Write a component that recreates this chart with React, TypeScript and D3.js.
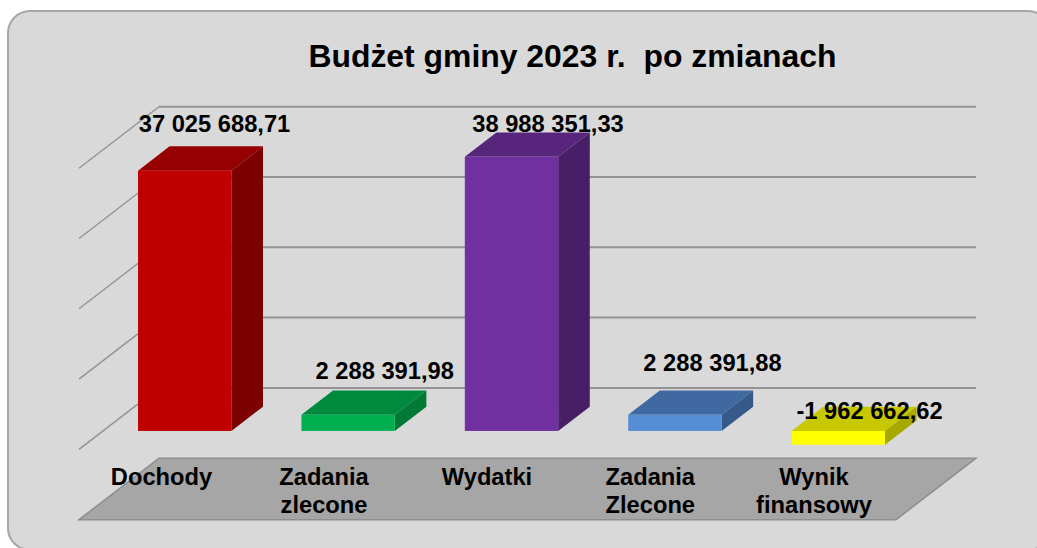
import React from 'react';
import * as d3 from 'd3';

const categories = ['Dochody', 'Zadania zlecone', 'Wydatki', 'Zadania Zlecone', 'Wynik finansowy'];
const categoryLines = [['Dochody'], ['Zadania', 'zlecone'], ['Wydatki'], ['Zadania', 'Zlecone'], ['Wynik', 'finansowy']];
const values = [37025688.71, 2288391.98, 38988351.33, 2288391.88, -1962662.62];
const valueLabels = ['37 025 688,71', '2 288 391,98', '38 988 351,33', '2 288 391,88', '-1 962 662,62'];
const frontColors = ['#c00000', '#00b050', '#7030a0', '#558ed5', '#ffff00'];
const topColors = ['#960000', '#008a3e', '#58257d', '#4069a1', '#c8c800'];
const sideColors = ['#7c0000', '#007a36', '#481e67', '#355a8a', '#a8a800'];
const gridTicks = [0, 10000000, 20000000, 30000000, 40000000];
const labelY = [131.5, 378.5, 131.5, 370.5, 419];
const labelCenter = [214.5, 384.7, 548, 712.5, 869.5];
const catCenter = [161.5, 324, 487, 650.3, 814];

const width = 1037;
const height = 548;
const depthX = 80;
const depthY = -61.5;
const barNear = 0.3;
const barFar = 0.695;

const x = d3.scaleBand<string>().domain(categories).range([79, 896]).paddingInner(0.4286).paddingOuter(0.2143);
const y = d3.scaleLinear().domain([-10000000, 40000000]).range([519.7, 168.2]);

const font = '"Liberation Sans", Arial, sans-serif';

const poly = d3.line();

function face(pts: [number, number][]) {
  return poly(pts) + 'Z';
}

export default function App() {
  return (
    <svg
      width={width}
      height={height}
      viewBox={`0 0 ${width} ${height}`}
      style={{ position: 'absolute', left: 0, top: 0, background: '#fff' }}
      fontFamily={font}
      fontWeight="bold"
    >
      <rect x={8} y={11} width={1042} height={539} rx={22} ry={22} fill="#d9d9d9" stroke="#a6a6a6" strokeWidth={2} />

      <text x={572.5} y={66.5} textAnchor="middle" fontSize={31.9} style={{ whiteSpace: 'pre' }} fill="#000">
        Budżet gminy 2023 r.  po zmianach
      </text>

      {gridTicks.map(t => (
        <g key={t} fill="none" stroke="#939393">
          <path d={poly([[79, y(t)], [79 + depthX, y(t) + depthY]]) as string} strokeWidth={1.4} />
          <line x1={79 + depthX} x2={896 + depthX} y1={y(t) + depthY} y2={y(t) + depthY} strokeWidth={2} />
        </g>
      ))}

      <path
        d={face([
          [79, y(-10000000)],
          [79 + depthX, y(-10000000) + depthY],
          [896 + depthX, y(-10000000) + depthY],
          [896, y(-10000000)],
        ])}
        fill="#a6a6a6"
        stroke="#8e8e8e"
        strokeWidth={1.5}
      />

      {categories.map((c, i) => {
        const x0 = (x(c) as number) + barNear * depthX;
        const x1 = x0 + x.bandwidth();
        const base = y(0) + barNear * depthY;
        const end = y(values[i]) + barNear * depthY;
        const dx = (barFar - barNear) * depthX;
        const dy = (barFar - barNear) * depthY;
        const top = Math.min(base, end);
        const bottom = Math.max(base, end);
        return (
          <g key={c}>
            <path d={face([[x0, top], [x0 + dx, top + dy], [x1 + dx, top + dy], [x1, top]])} fill={topColors[i]} />
            <path d={face([[x1, top], [x1 + dx, top + dy], [x1 + dx, bottom + dy], [x1, bottom]])} fill={sideColors[i]} />
            <rect x={x0} y={top} width={x.bandwidth()} height={bottom - top} fill={frontColors[i]} />
          </g>
        );
      })}

      {valueLabels.map((l, i) => (
        <text key={i} x={labelCenter[i]} y={labelY[i]} textAnchor="middle" fontSize={23.7} fill="#000">
          {l}
        </text>
      ))}

      {categoryLines.map((lines, i) => (
        <text key={i} textAnchor="middle" fontSize={23.7} fill="#000">
          {lines.map((l, j) => (
            <tspan key={j} x={catCenter[i]} y={484.7 + j * 28}>
              {l}
            </tspan>
          ))}
        </text>
      ))}
    </svg>
  );
}
